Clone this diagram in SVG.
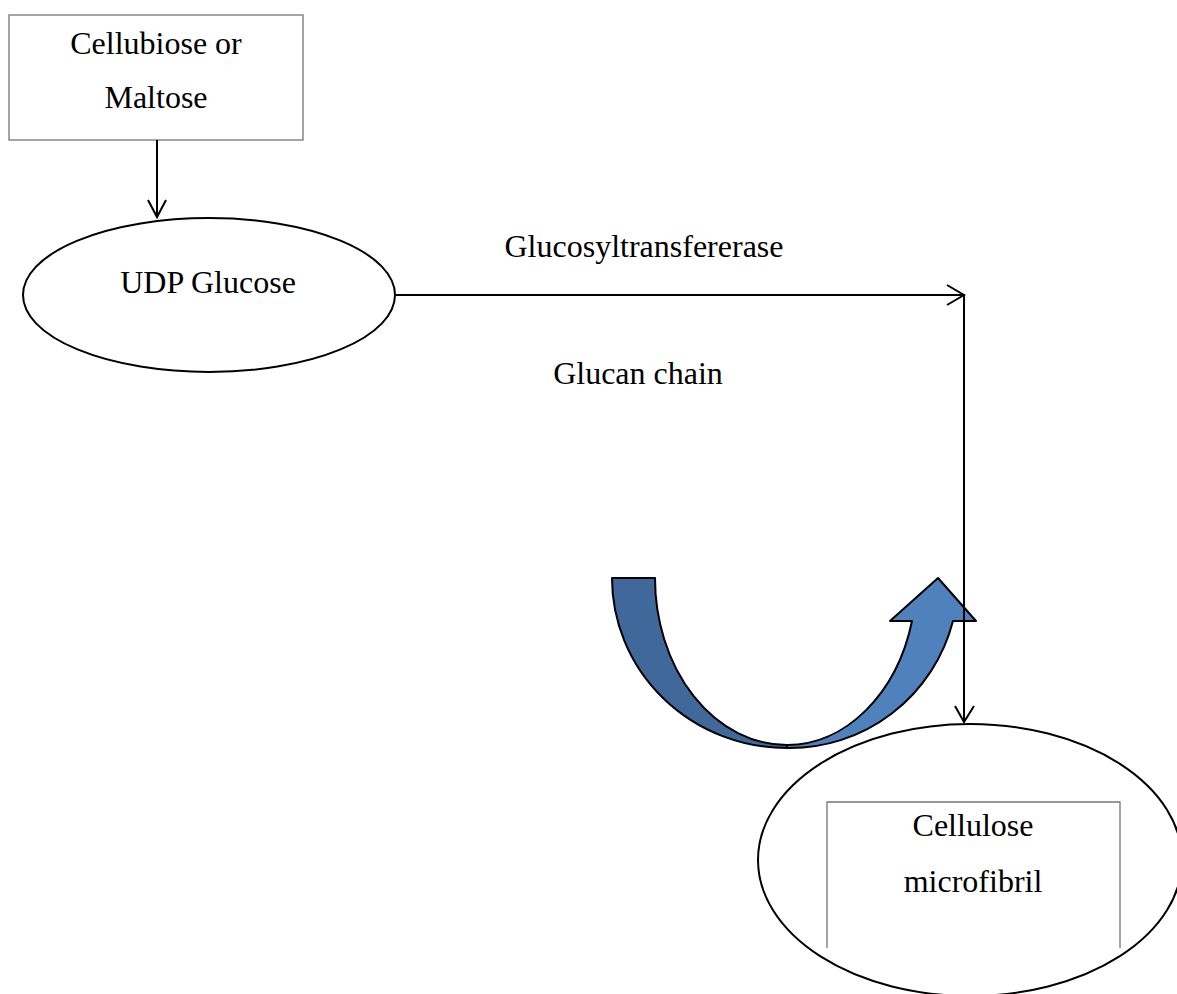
<svg xmlns="http://www.w3.org/2000/svg" width="1177" height="994" viewBox="0 0 1177 994">
<style>
.lbl{font-family:"Liberation Serif","Times New Roman",serif;font-size:32px;fill:#000;text-anchor:middle}
.box{fill:#fff;stroke:#767676;stroke-width:1.3}
.ell{fill:#fff;stroke:#000;stroke-width:2}
.con{fill:none;stroke:#000;stroke-width:2}
.head{fill:none;stroke:#000;stroke-width:2}
</style>
<rect width="1177" height="994" fill="#fff"/>
<g id="node-cellubiose">
<rect class="box" x="9" y="15" width="294" height="125"/>
<text class="lbl" x="156" y="54">Cellubiose or</text>
<text class="lbl" x="156" y="108">Maltose</text>
</g>
<g id="node-udp">
<ellipse class="ell" cx="209" cy="295" rx="186" ry="77"/>
<text class="lbl" x="208" y="293">UDP Glucose</text>
</g>
<g id="node-cellulose">
<ellipse class="ell" cx="970" cy="860" rx="212" ry="136"/>
<path class="box" fill="none" d="M827,948 V802 H1120 V948" style="fill:none"/>
<text class="lbl" x="973" y="836">Cellulose</text>
<text class="lbl" x="973" y="892">microfibril</text>
</g>
<g id="curved-arrow" stroke="#000" stroke-width="2" stroke-linejoin="round">
<path fill="#41689A" d="M612,578 L655,578 A132,167 0 0 0 787,745 L787,748 A175,170 0 0 1 612,578 Z"/>
<path fill="#4F81BD" d="M787,745 A129.4,167 0 0 0 912,621 L890,621 L938,578 L976,621 L953,621 A168.5,170 0 0 1 787,748 Z"/>
</g>
<g id="connectors">
<line class="con" x1="157" y1="140" x2="157" y2="217"/>
<polyline class="head" points="148,200 157,217 166,200"/>
<polyline class="con" points="396,295 964,295 964,722"/>
<polyline class="head" points="947,285 964,295 947,305"/>
<polyline class="head" points="955,706 964,722 974,706"/>
<text class="lbl" x="644" y="257">Glucosyltransfererase</text>
<text class="lbl" x="638" y="384">Glucan chain</text>
</g>
</svg>
